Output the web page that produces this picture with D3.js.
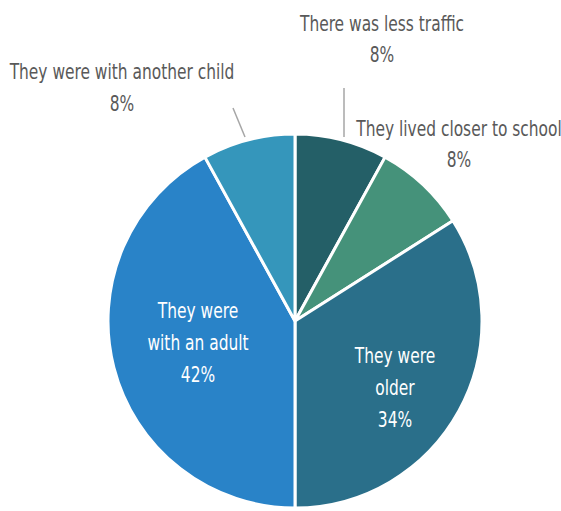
<!DOCTYPE html>
<html>
<head>
<meta charset="utf-8">
<script src="https://cdn.jsdelivr.net/npm/d3@7"></script>
<style>
  html, body { margin: 0; padding: 0; background: #fff; }
  svg text { font-family: "DejaVu Sans Condensed", "Liberation Sans Narrow", sans-serif; font-size: 22px; font-weight: 300; }
</style>
</head>
<body>
<svg id="chart" width="561" height="511"></svg>
<script>
// Reasons, in clockwise order from 12 o'clock
const categories = [
  "There was less traffic",
  "They lived closer to school",
  "They were older",
  "They were with an adult",
  "They were with another child"
];
const values = [8, 8, 34, 42, 8];
const colors = ["#245f67", "#45927a", "#2a6f8a", "#2983c8", "#3596bb"];

// Label lines per slice
const labelLines = [
  ["There was less traffic", "8%"],
  ["They lived closer to school", "8%"],
  ["They were", "older", "34%"],
  ["They were", "with an adult", "42%"],
  ["They were with another child", "8%"]
];

const svg = d3.select("#chart");
const cx = 295, cy = 321, r = 187;
const g = svg.append("g").attr("transform", `translate(${cx},${cy})`);

const data = categories.map((c, i) => ({ name: c, value: values[i], i }));
const pie = d3.pie().value(d => d.value).sort(null);
const arcs = pie(data);
const arc = d3.arc().innerRadius(0).outerRadius(r);

g.selectAll("path.slice")
  .data(arcs)
  .join("path")
  .attr("class", "slice")
  .attr("d", arc)
  .attr("fill", d => colors[d.data.i])
  .attr("stroke", "#fff")
  .attr("stroke-width", 3)
  .attr("stroke-linejoin", "round");

// Label anchor (first baseline) relative to the pie centre, colour, line gap, leader line
const layout = {
  0: { x: 87, y: -290, fill: "#595959", gap: 31, line: [[49, -233], [49, -184]] },
  1: { x: 164, y: -185, fill: "#595959", gap: 31, line: null },
  2: { x: 100, y: 42, fill: "#ffffff", gap: 32, line: null },
  3: { x: -97, y: -3, fill: "#ffffff", gap: 32, line: null },
  4: { x: -173, y: -242, fill: "#595959", gap: 32, line: [[-62, -213], [-50, -184]] }
};

arcs.forEach(a => {
  const i = a.data.i;
  const L = layout[i];
  if (L.line) {
    g.append("line")
      .attr("x1", L.line[0][0]).attr("y1", L.line[0][1])
      .attr("x2", L.line[1][0]).attr("y2", L.line[1][1])
      .attr("stroke", "#a6a6a6").attr("stroke-width", 1.5);
  }
  const t = g.append("text")
    .attr("text-anchor", "middle")
    .attr("fill", L.fill)
    .attr("transform", `translate(${L.x},${L.y}) scale(0.78,1)`);
  labelLines[i].forEach((ln, k) => {
    t.append("tspan").attr("x", 0).attr("y", k * L.gap).text(ln);
  });
});
</script>
</body>
</html>
